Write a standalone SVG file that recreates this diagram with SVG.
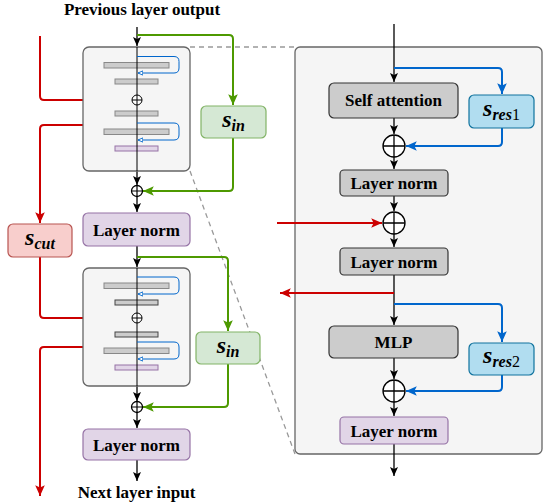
<svg xmlns="http://www.w3.org/2000/svg" width="543" height="504" viewBox="0 0 543 504">
<defs>
<style>
.lbl{font-family:"Liberation Serif","DejaVu Serif",serif;font-weight:bold;font-size:17px;fill:#000;text-anchor:middle}
.math{font-family:"Liberation Serif","DejaVu Serif",serif;font-weight:bold;font-style:italic;fill:#000;text-anchor:middle}
.blk{fill:none;stroke:#000;stroke-width:1.3}
.grn{fill:none;stroke:#4d9900;stroke-width:2}
.red{fill:none;stroke:#cc0000;stroke-width:2}
.blu{fill:none;stroke:#0066cc;stroke-width:2}
.blu1{fill:none;stroke:#0066cc;stroke-width:1}
.bar{fill:#cccccc;stroke:#888;stroke-width:1}
.bard{fill:#cccccc;stroke:#444;stroke-width:1}
.pbar{fill:#e1d5e7;stroke:#9673a6;stroke-width:1}
.dash{fill:none;stroke:#999;stroke-width:1.3;stroke-dasharray:5 4}
.purple{fill:#e1d5e7;stroke:#9673a6;stroke-width:1.2}
.gray{fill:#cccccc;stroke:#333;stroke-width:1.2}
.green{fill:#d5e8d4;stroke:#82b366;stroke-width:1.2}
.pink{fill:#f8cecc;stroke:#b85450;stroke-width:1.2}
.cyan{fill:#b1ddf0;stroke:#10739e;stroke-width:1.2}
.panel{fill:#f5f5f5;stroke:#666;stroke-width:1.3}
.plus{fill:#fff;stroke:#000;stroke-width:1.3}
</style>
<marker id="ab" markerUnits="userSpaceOnUse" markerWidth="10" markerHeight="10" viewBox="0 0 10 10" refX="9" refY="5" orient="auto"><path d="M0,1 L9,5 L0,9 L2,5 Z" fill="#000"/></marker>
<marker id="ag" markerUnits="userSpaceOnUse" markerWidth="12" markerHeight="12" viewBox="0 0 10 10" refX="9" refY="5" orient="auto"><path d="M0,1 L9,5 L0,9 L2,5 Z" fill="#4d9900"/></marker>
<marker id="ar" markerUnits="userSpaceOnUse" markerWidth="12" markerHeight="12" viewBox="0 0 10 10" refX="9" refY="5" orient="auto"><path d="M0,1 L9,5 L0,9 L2,5 Z" fill="#cc0000"/></marker>
<marker id="abl" markerUnits="userSpaceOnUse" markerWidth="12" markerHeight="12" viewBox="0 0 10 10" refX="9" refY="5" orient="auto"><path d="M0,1 L9,5 L0,9 L2,5 Z" fill="#0066cc"/></marker>
<marker id="asm" markerUnits="userSpaceOnUse" markerWidth="6" markerHeight="6" viewBox="0 0 10 10" refX="9" refY="5" orient="auto"><path d="M1,1.5 L9,5 L1,8.5 Z" fill="#fff" stroke="#0066cc" stroke-width="1.5"/></marker>
</defs>
<rect width="543" height="504" fill="#fff"/>

<g id="zoom-lines">
<path class="dash" d="M190,47 H295"/>
<path class="dash" d="M190,171 L295,454"/>
</g>

<g id="panel"><rect class="panel" x="295" y="47" width="247" height="407" rx="5"/></g>

<g id="connectors">
<path class="blk" d="M137,27 V46" marker-end="url(#ab)"/>
<path class="blk" d="M137,171 V185" marker-end="url(#ab)"/>
<path class="blk" d="M137,197 V212" marker-end="url(#ab)"/>
<path class="grn" d="M137,35 H229 Q233,35 233,39 V105" marker-end="url(#ag)"/>
<path class="grn" d="M233,138 V187 Q233,191 229,191 H143" marker-end="url(#ag)"/>
<path class="red" d="M40,36 V96 Q40,100 44,100 H83"/>
<path class="red" d="M83,125 H44 Q40,125 40,129 V223" marker-end="url(#ar)"/>
<path class="red" d="M40,257 V314 Q40,318 44,318 H83"/>
<path class="red" d="M83,347 H44 Q40,347 40,351 V496" marker-end="url(#ar)"/>
<path class="blk" d="M137,246 V267" marker-end="url(#ab)"/>
<path class="blk" d="M137,386 V401" marker-end="url(#ab)"/>
<path class="blk" d="M137,413 V428" marker-end="url(#ab)"/>
<path class="blk" d="M137,460 V481" marker-end="url(#ab)"/>
<path class="grn" d="M137,257 H224 Q228,257 228,261 V331" marker-end="url(#ag)"/>
<path class="grn" d="M228,364 V403 Q228,407 224,407 H143" marker-end="url(#ag)"/>
<path class="blk" d="M394,24 V82" marker-end="url(#ab)"/>
<path class="blk" d="M394,118 V134" marker-end="url(#ab)"/>
<path class="blk" d="M394,157 V169" marker-end="url(#ab)"/>
<path class="blk" d="M394,196 V211" marker-end="url(#ab)"/>
<path class="blk" d="M394,234 V247" marker-end="url(#ab)"/>
<path class="blk" d="M394,275 V325" marker-end="url(#ab)"/>
<path class="blk" d="M394,358 V379" marker-end="url(#ab)"/>
<path class="blk" d="M394,402 V416" marker-end="url(#ab)"/>
<path class="blk" d="M394,444 V476" marker-end="url(#ab)"/>
<path class="blu" d="M394,68 H498 Q502,68 502,72 V94" marker-end="url(#abl)"/>
<path class="blu" d="M502,128 V142 Q502,146 498,146 H406" marker-end="url(#abl)"/>
<path class="red" d="M277,223 H382" marker-end="url(#ar)"/>
<path class="red" d="M394,293 H280" marker-end="url(#ar)"/>
<path class="blu" d="M394,304 H498 Q502,304 502,308 V342" marker-end="url(#abl)"/>
<path class="blu" d="M502,375 V387 Q502,391 498,391 H406" marker-end="url(#abl)"/>
</g>

<g id="block1">
<rect x="83" y="47" width="107" height="124" rx="6" fill="#f5f5f5" stroke="#666" stroke-width="1.3"/>
<rect class="bar" x="104" y="62.5" width="65" height="5.5"/>
<rect class="bar" x="115" y="79" width="43" height="5"/>
<rect class="bar" x="115" y="111" width="43" height="5"/>
<rect class="bar" x="104" y="129" width="65" height="5.5"/>
<rect class="pbar" x="115" y="146" width="43" height="5"/>
<path d="M137,47 V171" stroke="#000" stroke-width="1"/>
<path class="blu1" d="M137,56.5 H174 Q179,56.5 179,61.5 V68 Q179,73 174,73 H138" marker-end="url(#asm)"/>
<path class="blu1" d="M137,123 H174 Q179,123 179,128 V135 Q179,140 174,140 H138" marker-end="url(#asm)"/>
<circle cx="137" cy="100" r="5" fill="#fff" stroke="#000" stroke-width="1"/>
<path d="M132,100 H142 M137,95 V105" stroke="#000" stroke-width="1"/>
</g>

<g id="block2">
<rect x="83" y="268" width="107" height="118" rx="6" fill="#f5f5f5" stroke="#666" stroke-width="1.3"/>
<rect class="bar" x="104" y="283" width="65" height="5.5"/>
<rect class="bard" x="115" y="300" width="43" height="5"/>
<rect class="bard" x="115" y="332" width="43" height="5"/>
<rect class="bar" x="104" y="348" width="65" height="5.5"/>
<rect class="pbar" x="115" y="365" width="43" height="5"/>
<path d="M137,268 V386" stroke="#000" stroke-width="1"/>
<path class="blu1" d="M137,277 H174 Q179,277 179,282 V289 Q179,294 174,294 H138" marker-end="url(#asm)"/>
<path class="blu1" d="M137,342 H174 Q179,342 179,347 V354 Q179,359 174,359 H138" marker-end="url(#asm)"/>
<circle cx="137" cy="318" r="5" fill="#fff" stroke="#000" stroke-width="1"/>
<path d="M132,318 H142 M137,313 V323" stroke="#000" stroke-width="1"/>
</g>

<g id="plus-left1"><circle class="plus" cx="137" cy="191" r="5.5"/><path d="M131.5,191 H142.5 M137,185.5 V196.5" stroke="#000" stroke-width="1.2"/></g>
<g id="plus-left2"><circle class="plus" cx="137" cy="407" r="5.5"/><path d="M131.5,407 H142.5 M137,401.5 V412.5" stroke="#000" stroke-width="1.2"/></g>
<g id="ln-left1"><rect class="purple" x="83" y="213" width="107" height="33" rx="5"/><text class="lbl" x="136.5" y="235.5">Layer norm</text></g>
<g id="ln-left2"><rect class="purple" x="83" y="429" width="107" height="31" rx="5"/><text class="lbl" x="136.5" y="450.5">Layer norm</text></g>
<g id="sin1"><rect class="green" x="201" y="106" width="65" height="32" rx="5"/><text class="math" x="233.5" y="127"><tspan font-size="24">s</tspan><tspan font-size="16" dy="4">in</tspan></text></g>
<g id="sin2"><rect class="green" x="196" y="332" width="64" height="32" rx="5"/><text class="math" x="228" y="353"><tspan font-size="24">s</tspan><tspan font-size="16" dy="4">in</tspan></text></g>
<g id="scut"><rect class="pink" x="8" y="224" width="64" height="33" rx="5"/><text class="math" x="40" y="245"><tspan font-size="24">s</tspan><tspan font-size="16" dy="4">cut</tspan></text></g>

<g id="self-attn"><rect class="gray" x="329" y="83" width="129" height="35" rx="5"/><text class="lbl" x="393.5" y="106">Self attention</text></g>
<g id="sres1"><rect class="cyan" x="469" y="95" width="65" height="33" rx="5"/><text class="math" x="501.5" y="116"><tspan font-size="24">s</tspan><tspan font-size="16" dy="4">res</tspan><tspan font-size="16" font-style="normal" font-weight="normal">1</tspan></text></g>
<g id="plus1"><circle class="plus" cx="394" cy="146" r="11"/><path d="M383,146 H405 M394,135 V157" stroke="#000" stroke-width="1.3"/></g>
<g id="ln1"><rect class="gray" x="340" y="170" width="108" height="26" rx="4"/><text class="lbl" x="394" y="189">Layer norm</text></g>
<g id="plus2"><circle class="plus" cx="394" cy="223" r="11"/><path d="M383,223 H405 M394,212 V234" stroke="#000" stroke-width="1.3"/></g>
<g id="ln2"><rect class="gray" x="340" y="248" width="108" height="27" rx="4"/><text class="lbl" x="394" y="267.5">Layer norm</text></g>
<g id="mlp"><rect class="gray" x="329" y="326" width="129" height="32" rx="5"/><text class="lbl" x="393.5" y="348">MLP</text></g>
<g id="sres2"><rect class="cyan" x="469" y="343" width="65" height="32" rx="5"/><text class="math" x="501.5" y="363"><tspan font-size="24">s</tspan><tspan font-size="16" dy="4">res</tspan><tspan font-size="16" font-style="normal" font-weight="normal">2</tspan></text></g>
<g id="plus3"><circle class="plus" cx="394" cy="391" r="11"/><path d="M383,391 H405 M394,380 V402" stroke="#000" stroke-width="1.3"/></g>
<g id="ln3"><rect class="purple" x="340" y="417" width="108" height="27" rx="4"/><text class="lbl" x="394" y="436.5">Layer norm</text></g>

<g id="titles">
<text class="lbl" x="142" y="15">Previous layer output</text>
<text class="lbl" x="136.5" y="498">Next layer input</text>
</g>
</svg>
